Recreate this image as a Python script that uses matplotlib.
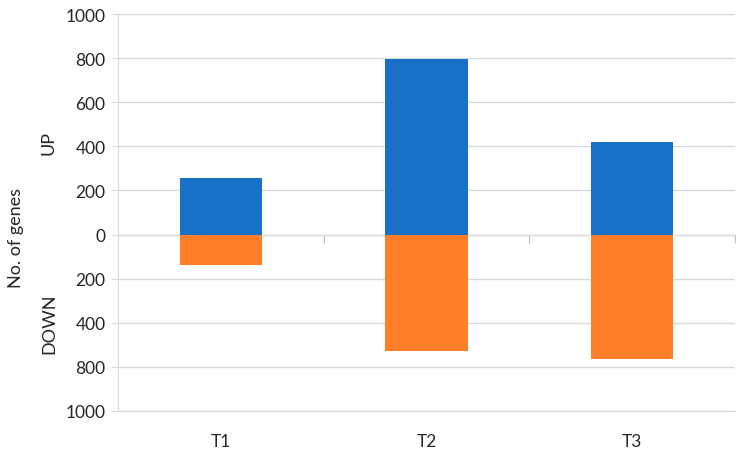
import matplotlib
matplotlib.use("Agg")
import matplotlib.pyplot as plt

# data
categories = ["T1", "T2", "T3"]
up_genes = [255, 795, 421]
down_genes = [138, 526, 565]
ytick_values = [1000, 800, 600, 400, 200, 0, -200, -400, -600, -800]
ytick_labels = ["1000", "800", "600", "400", "200", "0", "200", "400", "800", "1000"]

plt.rcParams['font.family'] = ['Lato', 'DejaVu Sans']
grey = '#d9d9d9'

fig = plt.figure(figsize=(7.44, 4.56), dpi=100)
ax = fig.add_axes([118 / 744, 1 - 412 / 456, 617 / 744, 397 / 456])

x = range(len(categories))
ax.bar(x, up_genes, width=0.4, color='#1871c7', zorder=3)
ax.bar(x, [-v for v in down_genes], width=0.4, color='#fe7f27', zorder=3)

ax.set_xlim(-0.5, len(categories) - 0.5)
ax.set_ylim(-800, 1000)
ax.set_yticks(ytick_values)
ax.set_yticklabels(ytick_labels)
ax.set_xticks(list(x))
ax.set_xticklabels(categories)

ax.tick_params(axis='y', length=5, color=grey, labelsize=12.5, labelcolor='#262626', pad=4)
ax.tick_params(axis='x', length=0, labelsize=12.5, labelcolor='#262626', pad=16)
ax.grid(axis='y', color=grey, linewidth=1, zorder=0)
for side in ['top', 'right']:
    ax.spines[side].set_visible(False)
ax.spines['left'].set_color(grey)
ax.spines['bottom'].set_color(grey)

# category axis line at zero with boundary ticks
sec = ax.secondary_xaxis(0, transform=ax.transData)
sec.set_xticks([i + 0.5 for i in range(len(categories))])
sec.set_xticklabels([])
sec.tick_params(length=6, color='#bfbfbf', direction='out')
sec.spines['bottom'].set_color('#bfbfbf')

tr = ax.get_yaxis_transform()
ax.text(-0.112, 420, "UP", transform=tr, rotation=90, ha='center', va='center',
        fontsize=13, color='#262626')
ax.text(-0.112, -400, "DOWN", transform=tr, rotation=90, ha='center', va='center',
        fontsize=13, color='#262626')
ax.text(-0.165, -10, "No. of genes", transform=tr, rotation=90, ha='center', va='center',
        fontsize=13, color='#262626')

fig.savefig("out.png", dpi=100)
